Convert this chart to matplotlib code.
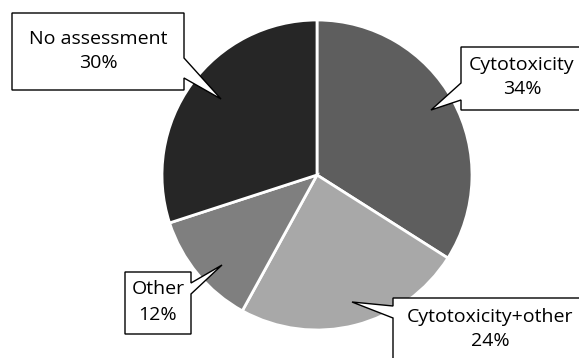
import matplotlib

matplotlib.use("Agg")
import matplotlib.pyplot as plt  # noqa: E402
from matplotlib.patches import Polygon  # noqa: E402

labels = ["Cytotoxicity", "Cytotoxicity+other", "Other", "No assessment"]
shares = [34, 24, 12, 30]
colors = ["#5e5e5e", "#a8a8a8", "#7f7f7f", "#262626"]

W, H = 579, 358
plt.rcParams["font.family"] = ["Open Sans", "DejaVu Sans"]


def py(y):
    # pixel row (from top) -> data y (from bottom)
    return H - y


# callout layout in pixels: box (x0, y0, x1, y1), pointer side, base (ya, yb), tip, text centre
callouts = [
    dict(box=(461, 47, 590, 110), side="left", base=(83, 100), tip=(431, 110), tc=(522, 77)),
    dict(box=(393, 298, 600, 380), side="left", base=(306, 318), tip=(352, 302), tc=(490, 329)),
    dict(box=(125, 272, 191, 334), side="right", base=(283, 294), tip=(222, 265), tc=(158, 302)),
    dict(box=(12, 13, 184, 90), side="right", base=(58, 78), tip=(221, 99), tc=(98, 51)),
]

fig = plt.figure(figsize=(W / 100, H / 100), dpi=100)
ax = fig.add_axes([0, 0, 1, 1])
ax.axis("off")

ax.pie(shares, colors=colors, startangle=90, counterclock=False,
       center=(317, py(175)), radius=155,
       wedgeprops=dict(edgecolor="white", linewidth=2))
ax.set_xlim(0, W)
ax.set_ylim(0, H)
ax.set_aspect("equal")

for lab, val, c in zip(labels, shares, callouts):
    x0, y0, x1, y1 = c["box"]
    ya, yb = c["base"]
    tx, ty = c["tip"]
    if c["side"] == "right":
        pts = [(x0, y0), (x1, y0), (x1, ya), (tx, ty), (x1, yb), (x1, y1), (x0, y1)]
    else:
        pts = [(x0, y0), (x1, y0), (x1, y1), (x0, y1), (x0, yb), (tx, ty), (x0, ya)]
    pts = [(x, py(y)) for x, y in pts]
    ax.add_patch(Polygon(pts, closed=True, facecolor="white", edgecolor="black",
                         linewidth=1, zorder=5))
    cx, cy = c["tc"]
    ax.text(cx, py(cy), f"{lab}\n{val}%", ha="center", va="center", fontsize=14,
            linespacing=1.5, color="black", zorder=6)

fig.savefig("out.png", dpi=100)
